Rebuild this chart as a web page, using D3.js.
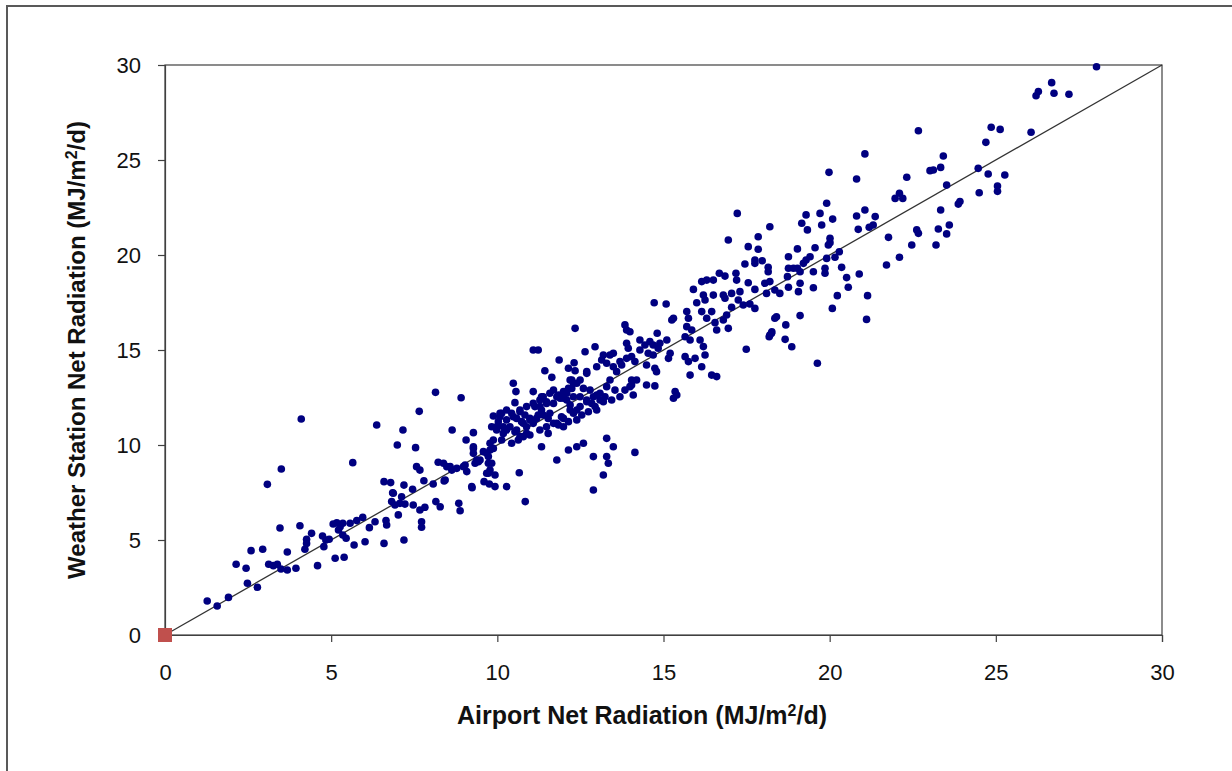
<!DOCTYPE html>
<html>
<head>
<meta charset="utf-8">
<script src="https://cdn.jsdelivr.net/npm/d3@7"></script>
<style>
  html, body { margin: 0; padding: 0; background: #fff; }
  svg { display: block; }
</style>
</head>
<body>
<svg id="chart" width="1232" height="771"></svg>
<script>
// ---- data ----
const xTicks = [0, 5, 10, 15, 20, 25, 30];
const yTicks = [0, 5, 10, 15, 20, 25, 30];
const xTitle = "Airport Net Radiation (MJ/m";
const yTitle = "Weather Station Net Radiation (MJ/m";
const titleTail = "/d)";
const originPoint = [0, 0];
const lineEnds = [0, 30];

// Airport net radiation (x)
const airport = [
 4.10,6.37,6.99,5.65,3.50,3.08,6.59,6.79,6.85,6.82,6.92,7.02,5.95,5.77,5.57,5.35,5.17,5.06,5.27,5.22,
 5.35,5.45,6.15,6.32,6.65,6.67,6.59,6.02,5.69,5.39,5.12,4.59,4.74,4.84,4.78,4.94,4.41,4.26,4.26,4.21,
 4.06,3.46,3.68,2.94,2.59,2.14,2.44,3.12,3.26,3.38,3.49,3.68,3.94,2.48,2.78,1.91,1.27,1.57,
 11.08,11.23,8.14,8.91,7.65,7.16,8.64,9.06,9.28,10.48,10.56,11.08,10.53,7.54,9.88,10.08,9.83,9.98,10.18,10.28,
 9.88,9.78,9.68,9.28,9.28,9.38,9.33,9.83,9.78,9.73,10.66,9.60,9.76,9.93,10.28,10.84,9.24,8.22,8.38,8.48,
 8.63,8.78,8.98,9.08,9.43,7.57,7.67,7.79,8.07,8.40,7.19,7.45,6.87,7.12,7.07,7.22,7.47,7.67,7.82,8.15,
 8.28,8.84,8.88,7.72,7.72,7.19,
 12.34,13.84,13.89,13.99,13.89,13.94,12.64,12.94,11.86,12.31,13.19,13.14,13.49,13.69,13.29,13.49,13.59,13.74,13.89,14.04,
 14.14,11.43,11.64,12.14,12.34,12.69,12.99,14.04,13.99,14.09,11.38,11.28,11.48,11.69,11.84,11.99,12.09,12.24,12.39,12.24,
 12.49,12.59,12.79,12.99,13.09,13.29,13.39,13.54,13.24,12.69,12.84,12.94,12.49,12.39,12.19,12.29,10.13,10.03,10.43,10.68,
 10.83,10.58,10.73,10.98,10.88,11.08,11.23,11.13,11.33,11.53,11.69,11.93,11.99,10.28,10.53,10.78,10.98,10.63,10.43,10.13,
 9.78,9.88,11.33,11.53,11.84,12.14,12.39,12.54,12.74,12.99,13.19,13.44,13.69,13.84,14.04,14.19,13.29,13.49,13.29,12.89,
 12.59,12.39,12.14,11.79,13.34,13.19,12.89,14.14,9.28,9.48,9.58,9.73,9.73,9.68,9.93,8.58,9.03,8.43,9.23,
 16.95,17.85,17.55,17.85,17.45,17.75,17.75,17.97,18.15,18.15,16.68,16.85,17.18,17.20,17.55,17.75,18.05,18.20,18.10,18.35,
 16.15,16.30,16.50,15.90,16.20,16.25,16.50,16.80,16.85,17.05,17.30,17.25,17.40,17.05,17.60,17.75,16.00,16.15,16.45,16.30,
 16.55,16.80,16.95,16.90,16.60,15.70,15.75,15.70,15.85,15.65,15.80,16.10,16.20,16.25,15.95,15.65,15.75,15.80,16.15,16.45,
 16.60,18.35,18.25,18.18,17.49,14.72,15.08,15.30,15.25,14.29,14.44,14.59,14.69,14.84,14.89,14.81,15.10,15.20,15.15,14.69,
 14.54,14.49,14.74,14.79,14.49,14.74,15.35,15.40,15.30,13.39,
 21.06,19.98,20.81,22.32,21.97,22.10,22.20,23.02,19.91,19.29,19.71,20.09,19.16,19.33,19.76,20.01,20.01,19.96,20.81,21.06,
 21.37,21.31,21.19,20.86,17.22,18.20,18.76,19.03,19.56,19.41,19.29,19.21,18.76,18.91,19.03,19.11,18.73,19.51,19.86,19.91,
 20.16,20.29,19.86,21.77,22.62,22.67,22.47,22.10,21.71,20.89,20.51,20.36,20.56,20.23,20.08,21.11,21.14,19.51,19.11,19.06,
 18.76,18.50,18.40,18.68,19.11,18.26,18.20,18.66,18.86,19.63,
 28.03,26.68,26.28,26.21,26.75,27.20,22.67,24.86,25.13,24.70,26.06,23.42,23.12,23.34,23.52,24.47,24.77,25.27,25.05,25.05,
 24.50,23.92,23.87,23.34,23.27,23.52,23.60,23.20,
 11.33,11.58,11.79,11.99,12.14,12.29,12.49,12.19,12.69,14.29,
 10.08,10.28,10.48,10.68,10.88,11.08,11.28,11.48,11.69,11.89,12.09,12.29,10.78,10.98,11.18,11.38,11.58,10.58,10.38,10.18,
 9.98,10.68,10.88,11.28,11.48,11.79,11.99,12.19,12.69,12.89,13.09
];

// Weather station net radiation (y)
const station = [
 11.37,11.05,10.00,9.07,8.74,7.93,8.07,8.02,7.49,7.02,6.84,6.32,6.19,6.02,5.88,5.88,5.91,5.84,5.70,5.53,
 5.26,5.09,5.65,5.96,6.02,5.79,4.82,4.91,4.74,4.09,4.04,3.65,5.21,5.00,4.65,5.04,5.35,5.04,4.82,4.51,
 5.75,5.63,4.37,4.51,4.44,3.72,3.51,3.72,3.65,3.72,3.47,3.42,3.51,2.72,2.51,1.98,1.79,1.53,
 15.00,15.00,12.77,12.49,11.77,10.79,10.79,10.26,10.65,13.25,12.81,12.81,12.23,9.86,11.53,11.49,10.96,10.96,10.96,11.32,
 10.26,9.74,9.56,9.82,9.56,9.21,9.04,9.04,8.68,8.51,8.54,8.07,7.95,7.81,7.81,7.02,7.75,9.09,9.04,8.86,
 8.68,8.77,8.86,8.60,9.12,8.86,8.68,8.12,7.95,8.11,7.89,7.67,7.46,7.28,6.93,6.89,6.84,6.58,6.72,7.02,
 6.75,6.93,6.54,5.96,5.67,5.00,
 16.14,16.32,16.05,15.96,15.35,15.09,14.91,15.17,14.47,14.33,14.74,14.47,14.83,14.39,14.30,14.12,13.86,14.21,14.56,14.65,
 14.39,13.91,13.56,14.04,13.91,13.86,14.12,13.42,13.07,12.63,12.54,12.37,12.19,12.89,12.63,12.46,12.72,13.42,13.25,12.98,
 12.54,12.98,12.89,12.63,12.37,13.07,13.42,12.89,12.54,12.37,12.19,12.02,12.02,11.84,12.11,11.67,11.67,11.23,11.67,11.84,
 11.58,11.40,11.23,11.40,10.96,11.14,11.58,12.02,11.84,11.40,11.14,11.49,10.96,10.79,10.70,10.44,10.53,10.26,10.09,10.26,
 10.09,9.82,9.91,10.61,11.05,11.23,11.32,11.58,11.75,11.84,12.28,12.37,12.54,12.89,13.16,13.42,10.35,9.91,9.39,9.39,
 10.09,9.91,9.74,9.21,9.04,8.42,7.63,9.61,9.91,9.21,9.65,9.39,9.04,8.51,8.42,8.86,8.95,8.16,7.81,
 20.79,20.96,20.44,20.30,19.53,19.74,19.56,19.70,19.35,19.12,19.04,18.89,19.04,18.68,18.54,18.19,18.51,18.60,17.98,18.16,
 18.60,18.68,18.68,18.19,17.89,17.63,17.89,17.89,17.72,17.98,18.07,17.63,17.37,17.25,17.42,17.19,17.49,17.02,17.02,16.67,
 16.44,16.58,16.14,16.84,16.05,17.02,16.67,16.23,16.05,15.70,15.53,15.53,15.18,14.74,14.56,14.65,14.39,13.68,14.12,13.68,
 13.60,16.67,15.88,15.70,15.04,17.49,17.42,16.67,16.58,15.53,15.26,15.44,15.26,15.09,15.35,15.88,15.53,14.83,14.56,14.74,
 14.83,14.21,14.04,13.86,13.16,13.11,12.81,12.63,12.46,14.74,
 25.32,24.35,24.00,24.09,22.98,23.25,22.98,24.44,22.72,22.11,22.19,21.89,21.67,21.32,21.58,20.88,20.65,20.53,22.05,22.37,
 22.02,21.58,21.46,21.35,22.19,21.49,19.91,20.32,20.38,19.91,19.74,19.56,19.30,19.30,19.30,19.12,18.86,19.12,19.30,19.82,
 19.88,20.17,19.04,20.93,21.32,21.14,20.53,19.88,19.47,19.00,18.81,19.35,18.30,17.86,17.19,16.61,17.86,18.28,18.51,18.07,
 18.30,17.98,16.75,16.32,16.81,15.96,15.79,15.56,15.17,14.30,
 29.91,29.07,28.60,28.38,28.51,28.46,26.54,26.72,26.61,25.93,26.46,25.21,24.47,24.61,23.68,24.56,24.26,24.21,23.63,23.35,
 23.28,22.81,22.68,22.37,21.37,21.11,21.58,20.53,
 12.54,12.72,12.54,12.81,12.98,13.25,13.42,13.42,13.77,15.00,
 11.67,11.84,11.49,11.75,12.02,12.19,12.02,12.28,12.19,12.46,12.37,12.54,11.14,11.32,11.40,11.58,11.67,10.79,10.96,10.61,
 10.79,10.44,10.61,10.79,10.96,11.14,11.40,11.84,12.28,12.54,12.72
];

// ---- drawing ----
const svg = d3.select("#chart");
const W = 1232, H = 771;
const plot = { left: 165, top: 65, right: 1162, bottom: 635 };

const x = d3.scaleLinear().domain([0, 30]).range([plot.left, plot.right]);
const y = d3.scaleLinear().domain([0, 30]).range([plot.bottom, plot.top]);

// outer chart border (only top/left visible in the reference)
svg.append("rect")
  .attr("x", 7).attr("y", 6)
  .attr("width", W + 20).attr("height", H + 20)
  .attr("fill", "#fff")
  .attr("stroke", "#595959").attr("stroke-width", 2);

// plot frame
svg.append("rect")
  .attr("x", plot.left).attr("y", plot.top)
  .attr("width", plot.right - plot.left).attr("height", plot.bottom - plot.top)
  .attr("fill", "#fff")
  .attr("stroke", "#404040").attr("stroke-width", 1.2);

const tickFont = "Liberation Sans, Arial, sans-serif";

const xAxis = svg.append("g")
  .attr("transform", `translate(0,${plot.bottom})`)
  .call(d3.axisBottom(x).tickValues(xTicks).tickSize(7).tickPadding(22).tickFormat(d3.format("d")));
const yAxis = svg.append("g")
  .attr("transform", `translate(${plot.left},0)`)
  .call(d3.axisLeft(y).tickValues(yTicks).tickSize(7).tickPadding(17).tickFormat(d3.format("d")));

[xAxis, yAxis].forEach(g => {
  g.select(".domain").attr("stroke", "#404040").attr("stroke-width", 1.2);
  g.selectAll(".tick line").attr("stroke", "#404040").attr("stroke-width", 1.2);
  g.selectAll(".tick text")
    .attr("fill", "#111")
    .style("font-family", tickFont)
    .style("font-size", "22px");
});

// 1:1 line
svg.append("line")
  .attr("x1", x(lineEnds[0])).attr("y1", y(lineEnds[0]))
  .attr("x2", x(lineEnds[1])).attr("y2", y(lineEnds[1]))
  .attr("stroke", "#333").attr("stroke-width", 1.3);

// scatter points
const pts = airport.map((v, i) => [v, station[i]]);
svg.append("g").selectAll("circle")
  .data(pts).join("circle")
  .attr("cx", d => x(d[0]))
  .attr("cy", d => y(d[1]))
  .attr("r", 3.8)
  .attr("fill", "#000080");

// origin marker
const sq = 14;
svg.append("rect")
  .attr("x", x(originPoint[0]) - sq / 2)
  .attr("y", y(originPoint[1]) - sq / 2)
  .attr("width", sq).attr("height", sq)
  .attr("fill", "#c0504d");

// axis titles
function title(sel, main) {
  sel.append("tspan").text(main);
  sel.append("tspan").text("2").attr("baseline-shift", "super").style("font-size", "16px");
  sel.append("tspan").text(titleTail);
}
const xt = svg.append("text")
  .attr("x", 642).attr("y", 724)
  .attr("text-anchor", "middle")
  .style("font-family", tickFont).style("font-weight", "bold").style("font-size", "25px")
  .attr("fill", "#111");
title(xt, xTitle);

const yt = svg.append("text")
  .attr("transform", `translate(85,${(plot.top + plot.bottom) / 2}) rotate(-90)`)
  .attr("text-anchor", "middle")
  .style("font-family", tickFont).style("font-weight", "bold").style("font-size", "24px")
  .attr("fill", "#111");
title(yt, yTitle);
</script>
</body>
</html>
